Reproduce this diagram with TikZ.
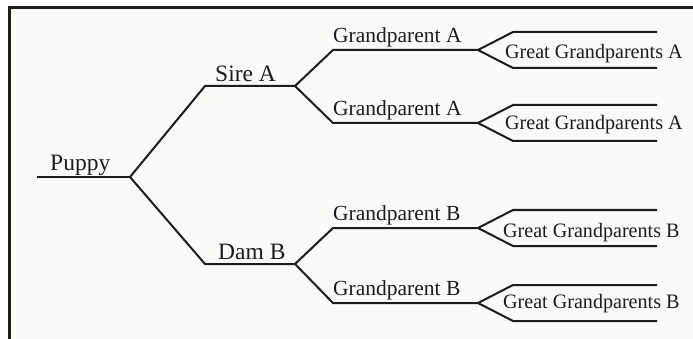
\documentclass[tikz,border=0pt]{standalone}
\usepackage{fontspec}
\setmainfont{Liberation Serif}
\definecolor{paper}{HTML}{FBFAF4}
\definecolor{ink}{HTML}{1C1C1C}
\begin{document}
\begin{tikzpicture}[x=1pt,y=-1pt,
  branch/.style={draw=ink,line width=2pt,line join=miter},
  lbig/.style={anchor=base west,inner sep=0pt,text=ink,font=\fontsize{23.5}{24}\selectfont},
  lmid/.style={anchor=base west,inner sep=0pt,text=ink,font=\fontsize{21.5}{22}\selectfont},
  lsmall/.style={anchor=base west,inner sep=0pt,text=ink,font=\fontsize{20.5}{21}\selectfont\addfontfeature{FakeStretch=0.98}}]
\useasboundingbox (0,0) rectangle (693,339);
% paper and frame
\fill[paper] (9,8) rectangle (693,339);
\draw[ink,line width=3pt] (9,339) -- (9,8) -- (693,8);

% junction points
\coordinate (p0) at (37,177);
\coordinate (pj) at (130,177);
\coordinate (s0) at (205,86);
\coordinate (sj) at (295,86);
\coordinate (d0) at (205,264);
\coordinate (dj) at (295,264);
\foreach \n/\y/\j in {ga1/50/sj, ga2/123/sj, gb1/228/dj, gb2/303/dj}{
  \coordinate (\n0) at (333,\y);
  \coordinate (\n j) at (478,\y);
  \coordinate (\n u) at (513,\y-18);
  \coordinate (\n ue) at (657,\y-18);
  \coordinate (\n d) at (513,\y+18);
  \coordinate (\n de) at (657,\y+18);
}

% tree
\draw[branch] (p0) -- (pj);
\draw[branch] (pj) -- (s0) -- (sj);
\draw[branch] (pj) -- (d0) -- (dj);
\draw[branch] (sj) -- (ga10) -- (ga1j);
\draw[branch] (sj) -- (ga20) -- (ga2j);
\draw[branch] (dj) -- (gb10) -- (gb1j);
\draw[branch] (dj) -- (gb20) -- (gb2j);
\foreach \n in {ga1,ga2,gb1,gb2}{
  \draw[branch] (\n ue) -- (\n u) -- (\n j) -- (\n d) -- (\n de);
}

% labels
\node[lbig] (puppy) at (50,171) {Puppy};
\node[lbig] (sire) at (215,82) {Sire A};
\node[lbig] (dam) at (218,259) {Dam B};
\node[lmid] (tga1) at (333,43) {Grandparent A};
\node[lmid] (tga2) at (333,116) {Grandparent A};
\node[lmid] (tgb1) at (333,221) {Grandparent B};
\node[lmid] (tgb2) at (333,295) {Grandparent B};
\node[lsmall] (gga1) at (505,59) {Great Grandparents A};
\node[lsmall] (gga2) at (505,130) {Great Grandparents A};
\node[lsmall] (ggb1) at (503,237) {Great Grandparents B};
\node[lsmall] (ggb2) at (503,308) {Great Grandparents B};
\end{tikzpicture}
\end{document}
